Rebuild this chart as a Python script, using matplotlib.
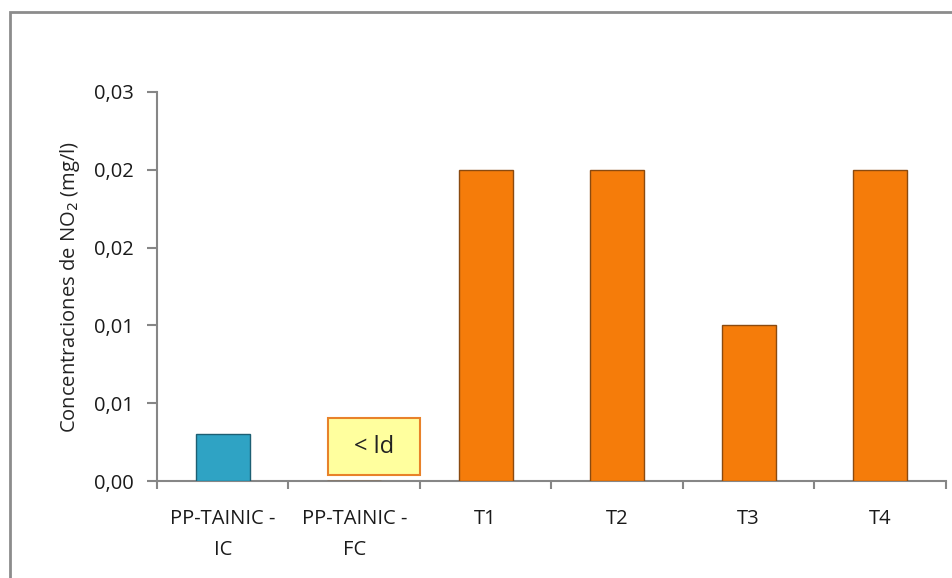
import matplotlib
matplotlib.use("Agg")
import matplotlib.pyplot as plt
from matplotlib.patches import Rectangle

plt.rcParams['font.family'] = ['Open Sans', 'DejaVu Sans']

# NO2 concentrations per sampling point (mg/l); FC is below detection limit
categories = ["PP-TAINIC -\nIC", "PP-TAINIC -\nFC", "T1", "T2", "T3", "T4"]
no2 = [0.003, 0.0, 0.02, 0.02, 0.01, 0.02]
bar_colors = ["#2fa3c4", "#f57c0a", "#f57c0a", "#f57c0a", "#f57c0a", "#f57c0a"]
edge_colors = ["#1d5f73", "#8a4a10", "#8a4a10", "#8a4a10", "#8a4a10", "#8a4a10"]
yticks = [0.0, 0.005, 0.01, 0.015, 0.02, 0.025]
ytick_labels = ["0,00", "0,01", "0,01", "0,02", "0,02", "0,03"]
lod_text = "< ld"

fig = plt.figure(figsize=(9.53, 5.78), dpi=100)
fig.patches.append(Rectangle((10 / 953, -0.1), 1.2, 1.1 - 12 / 578, transform=fig.transFigure,
                             fill=False, edgecolor="#8c8c8c", linewidth=2))
ax = fig.add_axes([157 / 953, 1 - 481 / 578, (946 - 157) / 953, (481 - 92) / 578])

x = range(len(categories))
ax.bar(x, no2, width=0.41, color=bar_colors, edgecolor=edge_colors, linewidth=1.0, zorder=3)

# detection-limit box for the FC sample
ax.add_patch(Rectangle((0.80, 0.0004), 0.70, 0.00365, facecolor="#ffff9e",
                       edgecolor="#e8822a", linewidth=1.5, zorder=3))
ax.text(1.15, 0.0022, lod_text, ha="center", va="center", fontsize=17, color="#222222", zorder=4)

ax.set_xlim(-0.5, len(categories) - 0.5)
ax.set_ylim(0, 0.025)
ax.set_yticks(yticks)
ax.set_yticklabels(ytick_labels)
ax.set_xticks(x)
ax.set_xticklabels(categories, fontsize=14.5, color="#1a1a1a", linespacing=1.75)
ax.set_xticks([i - 0.5 for i in range(len(categories) + 1)], minor=True)
ax.tick_params(axis="x", which="major", length=0, pad=20)
ax.tick_params(axis="x", which="minor", length=6, direction="out", color="#868686", width=1.5)
ax.tick_params(axis="y", length=7, direction="out", color="#868686", width=1.5,
               labelsize=14.5, labelcolor="#1a1a1a", pad=10)

for side in ("top", "right"):
    ax.spines[side].set_visible(False)
for side in ("left", "bottom"):
    ax.spines[side].set_color("#868686")
    ax.spines[side].set_linewidth(1.5)

ax.set_ylabel("Concentraciones de NO$_2$ (mg/l)", fontsize=14.5, color="#222222", labelpad=8)

fig.savefig("out.png", dpi=100)
